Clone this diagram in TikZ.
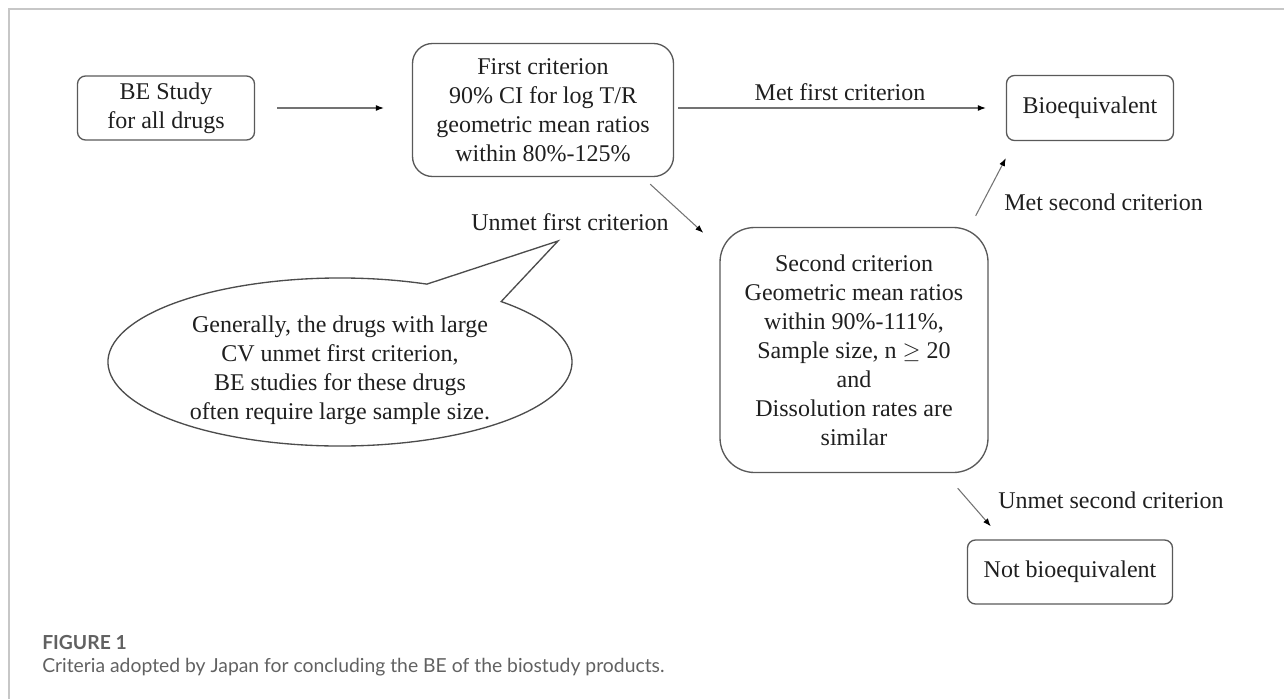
\documentclass[tikz,border=0pt]{standalone}
\usepackage{fontspec}
\setmainfont{Liberation Serif}
\newfontfamily\capfont{Lato}
\usetikzlibrary{arrows.meta}

\begin{document}
\begin{tikzpicture}[
    x = 0.75pt, y = 0.75pt,
    every node/.style = {inner sep = 0pt, text = black!88},
    box/.style = {draw = black!65, line width = 1pt, rounded corners = 6pt,
        align = center, font = \fontsize{18}{21.75}\selectfont},
    arr/.style = {draw = black!55, line width = 0.8pt,
        -{Latex[length = 6pt, width = 4.5pt, color = black]}},
    lbl/.style = {font = \fontsize{18}{21.75}\selectfont}]

\useasboundingbox (0,0) rectangle (1284,-699);
\draw[black!22, line width = 1pt] (9,-699) -- (9,-9) -- (1284,-9);

\node[box, minimum width = 132.75pt, minimum height = 48pt] (study) at (166,-108) {BE Study\\for all drugs};
\node[box, minimum width = 195.75pt, minimum height = 99.75pt, rounded corners = 15pt] (first) at (543,-110)
	{First criterion\\90\% CI for log T/R\\geometric mean ratios\\within 80\%-125\%};
\node[box, minimum width = 125.25pt, minimum height = 48.75pt] (bioeq) at (1090,-108) {Bioequivalent};
\node[box, minimum width = 201pt, minimum height = 183.75pt, rounded corners = 26pt] (second) at (854,-350)
	{Second criterion\\Geometric mean ratios\\within 90\%-111\%,\\Sample size, n $\geq$ 20\\and\\Dissolution rates are\\similar};
\node[box, minimum width = 153.75pt, minimum height = 48pt] (notbio) at (1070,-572) {Not bioequivalent};

\node[lbl] (metfirst) at (840,-92) {Met first criterion};
\node[lbl] (unmetfirst) at (570,-222) {Unmet first criterion};
\node[lbl, anchor = west] (metsecond) at (1004,-202) {Met second criterion};
\node[lbl, anchor = west] (unmetsecond) at (998,-500) {Unmet second criterion};

\draw[arr, shorten < = 16.5pt, shorten > = 21pt] (study.east) -- (study.east -| first.west);
\draw[arr, shorten < = 3pt, shorten > = 15pt] (first.east |- bioeq.west) -- (bioeq.west);
\draw[arr] ([xshift = -18pt, yshift = -5.25pt]first.south east) -- ([xshift = -12pt, yshift = -4.5pt]second.north west);
\draw[arr] ([xshift = -9.75pt, yshift = 8.25pt]second.north east) -- ([yshift = -12.75pt]bioeq.south west);
\draw[arr] ([xshift = -23.25pt, yshift = -11.25pt]second.south east) -- ([xshift = 18pt, yshift = 9.75pt]notbio.north west);

% speech bubble
\node[align = center, font = \fontsize{18}{21.75}\selectfont] (bubble) at (340,-370)
	{Generally, the drugs with large\\CV unmet first criterion,\\BE studies for these drugs\\often require large sample size.};
\draw[black!70, line width = 1pt] (340,-362) ++(68:232 and 84)
	arc[start angle = 68, end angle = 406, x radius = 232, y radius = 84]
	-- (558,-241) -- cycle;

\node[anchor = west, font = \capfont\bfseries\fontsize{14.5}{18}\selectfont, text = black!62] (fig) at (42,-643) {FIGURE 1};
\node[anchor = west, font = \capfont\fontsize{14.5}{18}\selectfont, text = black!62] (caption) at (42,-667)
	{Criteria adopted by Japan for concluding the BE of the biostudy products.};
\end{tikzpicture}
\end{document}
